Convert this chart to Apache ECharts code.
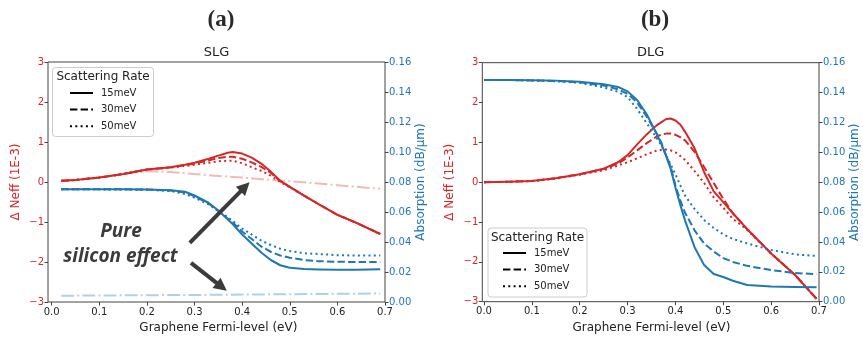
<!DOCTYPE html>
<html>
<head>
<meta charset="utf-8">
<script src="https://cdn.jsdelivr.net/npm/echarts@6/dist/echarts.min.js"></script>
<style>
html,body{margin:0;padding:0;background:#fff;}
#chart{width:863px;height:340px;}
</style>
</head>
<body>
<div id="chart"></div>
<script>
// ---------- data ----------
const rateNames = ['15meV', '30meV', '50meV'];
const xTicks = [0.0, 0.1, 0.2, 0.3, 0.4, 0.5, 0.6, 0.7];

// SLG panel
const xSLG = [0.02,0.05,0.1,0.15,0.2,0.25,0.28,0.3,0.33,0.35,0.37,0.38,0.4,0.42,0.44,0.46,0.48,0.5,0.53,0.56,0.6,0.64,0.69];
const slgNeff15 = [0.03,0.05,0.11,0.2,0.31,0.37,0.43,0.48,0.58,0.66,0.73,0.75,0.71,0.61,0.46,0.26,0.03,-0.12,-0.34,-0.55,-0.82,-1.02,-1.3];
const slgNeff30 = [0.03,0.05,0.11,0.2,0.31,0.37,0.42,0.46,0.54,0.6,0.63,0.63,0.58,0.49,0.38,0.23,0.02,-0.12,-0.34,-0.55,-0.82,-1.02,-1.3];
const slgNeff50 = [0.03,0.05,0.11,0.2,0.31,0.36,0.4,0.43,0.48,0.52,0.53,0.53,0.47,0.37,0.28,0.16,0.0,-0.13,-0.34,-0.55,-0.82,-1.02,-1.3];
const slgAbs15 = [0.0752,0.0752,0.0751,0.0751,0.075,0.0745,0.0735,0.071,0.066,0.061,0.055,0.052,0.045,0.039,0.033,0.028,0.0245,0.0228,0.022,0.0217,0.0215,0.0215,0.0218];
const slgAbs30 = [0.0752,0.0752,0.0751,0.0751,0.075,0.0743,0.073,0.0705,0.0655,0.0607,0.0555,0.053,0.047,0.042,0.037,0.0335,0.031,0.0295,0.028,0.0272,0.0268,0.0267,0.0267];
const slgAbs50 = [0.0752,0.0752,0.0751,0.075,0.0748,0.074,0.072,0.0695,0.065,0.0605,0.0565,0.054,0.049,0.045,0.041,0.038,0.0355,0.034,0.0325,0.032,0.0312,0.031,0.031];
// pure silicon effect (SLG)
const xSi = [0.02,0.1,0.15,0.2,0.25,0.3,0.35,0.4,0.45,0.5,0.55,0.6,0.65,0.69];
const siNeff = [0.03,0.11,0.2,0.27,0.25,0.2,0.15,0.11,0.06,0.02,-0.03,-0.08,-0.13,-0.17];
const xSiAbs = [0.02,0.35,0.69];
const siAbs = [0.0042,0.0048,0.0057];

// DLG panel
const xDLG = [0,0.05,0.1,0.15,0.2,0.25,0.28,0.3,0.32,0.34,0.36,0.37,0.38,0.39,0.4,0.41,0.42,0.44,0.46,0.48,0.5,0.52,0.55,0.6,0.65,0.695];
const dlgNeff15 = [0,0.01,0.03,0.1,0.2,0.34,0.5,0.68,0.95,1.2,1.42,1.5,1.58,1.6,1.55,1.45,1.27,0.85,0.25,-0.23,-0.5,-0.78,-1.18,-1.79,-2.33,-2.93];
const dlgNeff30 = [0,0.01,0.03,0.1,0.2,0.33,0.47,0.62,0.8,0.98,1.14,1.19,1.22,1.22,1.19,1.13,1.05,0.76,0.38,-0.02,-0.42,-0.78,-1.18,-1.79,-2.33,-2.93];
const dlgNeff50 = [0,0.01,0.03,0.09,0.19,0.3,0.42,0.5,0.6,0.7,0.79,0.81,0.82,0.8,0.75,0.66,0.56,0.28,-0.02,-0.38,-0.64,-0.92,-1.2,-1.79,-2.33,-2.93];
const dlgAbs15 = [0.1484,0.1484,0.1482,0.148,0.1473,0.1456,0.1438,0.1408,0.135,0.1255,0.113,0.106,0.098,0.089,0.0765,0.065,0.0545,0.0365,0.0245,0.0185,0.0165,0.014,0.0112,0.0102,0.0098,0.0096];
const dlgAbs30 = [0.1484,0.1484,0.1481,0.1478,0.1469,0.1447,0.1422,0.1392,0.1333,0.1238,0.113,0.107,0.0985,0.0905,0.0778,0.068,0.0596,0.0478,0.0389,0.0336,0.0292,0.0266,0.024,0.0212,0.0192,0.0185];
const dlgAbs50 = [0.1484,0.1484,0.1481,0.1476,0.1465,0.1435,0.1405,0.137,0.129,0.1195,0.11,0.105,0.0984,0.092,0.0853,0.078,0.071,0.0621,0.0547,0.0494,0.045,0.042,0.039,0.0346,0.0317,0.0306];

// ---------- styling ----------
const RED = '#d62728', BLUE = '#1f77b4';
const LIGHT_RED = '#f3b9b9', LIGHT_BLUE = '#b0cfe8';
const AX = '#444', TXT = '#222';
const FONT = '"DejaVu Sans", sans-serif';
const DASHES = ['solid', [7.4, 3.2], [2, 3.3]];
const DASHDOT = [12.8, 3.2, 2, 3.2];

const pairs = (xs, ys) => xs.map((x, i) => [x, ys[i]]);
const minus = v => String(v).replace('-', '\u2212');

function lineSeries(name, xs, ys, color, dash, xi, yi, z) {
  return {
    name, type: 'line', xAxisIndex: xi, yAxisIndex: yi, data: pairs(xs, ys),
    symbol: 'none', smooth: false, z: z || 2, silent: true, animation: false,
    lineStyle: { color, width: 2, type: dash, cap: 'butt', join: 'round' }
  };
}

function xAxisCfg(gi) {
  return {
    type: 'value', gridIndex: gi, position: 'bottom', min: 0, max: 0.7, interval: 0.1,
    axisLine: { show: false, onZero: false },
    axisTick: { show: true, length: 3.5, lineStyle: { color: AX, width: 1 } },
    axisLabel: { fontSize: 10, color: TXT, fontFamily: FONT, margin: 5, formatter: v => v.toFixed(1) },
    splitLine: { show: false },
    name: 'Graphene Fermi-level (eV)', nameLocation: 'middle', nameGap: 20,
    nameTextStyle: { fontSize: 12, color: TXT, fontFamily: FONT }
  };
}
function yLeftCfg(gi, off) {
  return {
    type: 'value', gridIndex: gi, position: 'left', offset: off, min: -3, max: 3, interval: 1,
    axisLine: { show: false, onZero: false },
    axisTick: { show: true, length: 3.5, lineStyle: { color: AX, width: 1 } },
    axisLabel: { fontSize: 10, color: RED, fontFamily: FONT, margin: 4, formatter: minus },
    splitLine: { show: false },
    name: 'Δ Neff (1E-3)', nameLocation: 'middle', nameGap: 26,
    nameTextStyle: { fontSize: 12, color: RED, fontFamily: FONT }
  };
}
function yRightCfg(gi) {
  return {
    type: 'value', gridIndex: gi, position: 'right', min: 0, max: 0.16, interval: 0.02,
    axisLine: { show: false, onZero: false },
    axisTick: { show: true, length: 3.5, lineStyle: { color: AX, width: 1 } },
    axisLabel: { fontSize: 10, color: BLUE, fontFamily: FONT, margin: 4, formatter: v => v.toFixed(2) },
    splitLine: { show: false },
    name: 'Absorption (dB/μm)', nameLocation: 'middle', nameGap: 30,
    nameTextStyle: { fontSize: 12, color: BLUE, fontFamily: FONT }
  };
}

const series = [];
// SLG (grid 0 : x0, yLeft 0, yRight 1)
series.push(lineSeries('si-neff', xSi, siNeff, LIGHT_RED, DASHDOT, 0, 0, 1));
series.push(lineSeries('si-abs', xSiAbs, siAbs, LIGHT_BLUE, DASHDOT, 0, 1, 1));
[slgNeff15, slgNeff30, slgNeff50].forEach((d, i) => series.push(lineSeries('slgN' + i, xSLG, d, RED, DASHES[i], 0, 0, 2)));
[slgAbs15, slgAbs30, slgAbs50].forEach((d, i) => series.push(lineSeries('slgA' + i, xSLG, d, BLUE, DASHES[i], 0, 1, 3)));
// DLG (grid 1 : x1, yLeft 2, yRight 3)
[dlgNeff15, dlgNeff30, dlgNeff50].forEach((d, i) => series.push(lineSeries('dlgN' + i, xDLG, d, RED, DASHES[i], 1, 2, 2)));
[dlgAbs15, dlgAbs30, dlgAbs50].forEach((d, i) => series.push(lineSeries('dlgA' + i, xDLG, d, BLUE, DASHES[i], 1, 3, 3)));
// legend-only series (black)
rateNames.forEach((n, i) => series.push({
  name: n, type: 'line', xAxisIndex: 0, yAxisIndex: 0, data: [], symbol: 'none',
  color: '#000', itemStyle: { opacity: 0 },
  lineStyle: { color: '#000', width: 2, type: DASHES[i], cap: 'butt' }
}));
// annotation arrows (pure silicon effect), in SLG data coordinates
series.push({
  name: 'arrows', type: 'line', xAxisIndex: 0, yAxisIndex: 0, data: [], symbol: 'none', z: 6,
  markLine: {
    silent: true, animation: false, symbol: ['none', 'triangle'], symbolSize: [13, 13],
    label: { show: false },
    lineStyle: { color: '#3b3b3b', width: 4, type: 'solid' },
    data: [
      [{ coord: [0.29, -1.52] }, { coord: [0.406, -0.12] }],
      [{ coord: [0.2925, -2.02] }, { coord: [0.357, -2.62] }]
    ]
  }
});

const legendCommon = {
  orient: 'vertical', itemWidth: 23, itemHeight: 10, itemGap: 6.6, padding: 0,
  data: rateNames, selectedMode: false,
  itemStyle: { opacity: 0, borderWidth: 0 },
  textStyle: { fontSize: 10, color: TXT, fontFamily: FONT, padding: [0, 0, 0, 3] }
};

const option = {
  animation: false,
  backgroundColor: '#fff',
  grid: [
    { left: 51.7, right: 478, top: 62, bottom: 38, show: false },
    { left: 484, right: 44, top: 62.7, bottom: 38.3, show: false },
    { left: 48, right: 478, top: 62, bottom: 38, show: true, borderColor: AX, borderWidth: 1, backgroundColor: 'transparent' },
    { left: 482.3, right: 44, top: 62.7, bottom: 38.3, show: true, borderColor: AX, borderWidth: 1, backgroundColor: 'transparent' }
  ],
  xAxis: [xAxisCfg(0), xAxisCfg(1)],
  yAxis: [yLeftCfg(0, 3.7), yRightCfg(0), yLeftCfg(1, 1.7), yRightCfg(1)],
  legend: [
    Object.assign({}, legendCommon, { left: 69, top: 88, z: 12 }),
    Object.assign({}, legendCommon, { left: 502, top: 248, z: 12 })
  ],
  graphic: [
    { type: 'text', x: 221, y: 20, z: 10, style: { text: '(a)', font: 'bold 23px "Liberation Serif", serif', fill: '#2a2a2a', align: 'center', verticalAlign: 'middle' } },
    { type: 'text', x: 655, y: 20, z: 10, style: { text: '(b)', font: 'bold 23px "Liberation Serif", serif', fill: '#2a2a2a', align: 'center', verticalAlign: 'middle' } },
    { type: 'text', x: 216.5, y: 53, z: 10, style: { text: 'SLG', font: '13px "DejaVu Sans"', fill: TXT, align: 'center', verticalAlign: 'middle' } },
    { type: 'text', x: 650.6, y: 53, z: 10, style: { text: 'DLG', font: '13px "DejaVu Sans"', fill: TXT, align: 'center', verticalAlign: 'middle' } },
    { type: 'rect', z: 11, shape: { x: 52.5, y: 67.5, width: 101, height: 69, r: 3 }, style: { fill: 'rgba(255,255,255,0.8)', stroke: '#ccc', lineWidth: 1 } },
    { type: 'text', z: 12, x: 103, y: 77, style: { text: 'Scattering Rate', font: '12px "DejaVu Sans"', fill: TXT, align: 'center', verticalAlign: 'middle' } },
    { type: 'rect', z: 11, shape: { x: 488, y: 228, width: 99, height: 69, r: 3 }, style: { fill: 'rgba(255,255,255,0.8)', stroke: '#ccc', lineWidth: 1 } },
    { type: 'text', z: 12, x: 537.5, y: 237.5, style: { text: 'Scattering Rate', font: '12px "DejaVu Sans"', fill: TXT, align: 'center', verticalAlign: 'middle' } },
    { type: 'text', z: 12, x: 121, y: 232, style: { text: 'Pure', font: 'italic bold 19px "Open Sans"', fill: '#3b3b3b', align: 'center', verticalAlign: 'middle' } },
    { type: 'text', z: 12, x: 120.5, y: 257, style: { text: 'silicon effect', font: 'italic bold 19px "Open Sans"', fill: '#3b3b3b', align: 'center', verticalAlign: 'middle' } }
  ],
  series
};

const chart = echarts.init(document.getElementById('chart'), null, { renderer: 'canvas' });
chart.setOption(option);
</script>
</body>
</html>
